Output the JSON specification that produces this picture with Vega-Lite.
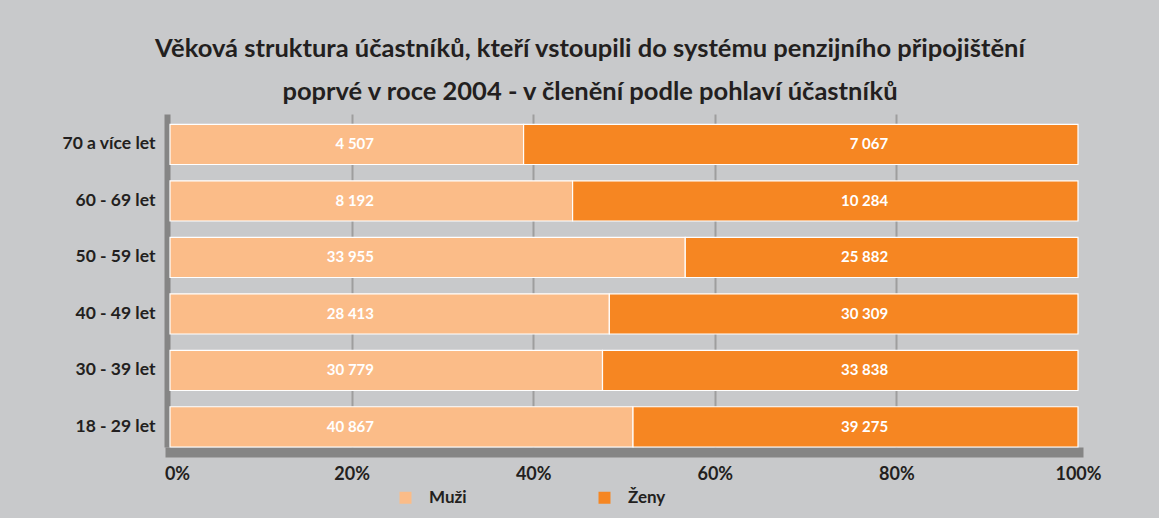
{
  "$schema": "https://vega.github.io/schema/vega-lite/v6.json",
  "width": 908,
  "height": 333,
  "autosize": {"type": "none"},
  "padding": {"left": 170, "top": 114, "right": 81, "bottom": 71},
  "background": "#c8c9cb",
  "title": {
    "text": ["Věková struktura účastníků, kteří vstoupili do systému penzijního připojištění", "poprvé v roce 2004 - v členění podle pohlaví účastníků"],
    "font": "Lato",
    "fontSize": 25.5,
    "fontWeight": "bold",
    "color": "#231f20",
    "anchor": "middle",
    "dx": -34,
    "lineHeight": 43,
    "offset": 9
  },
  "config": {
    "locale": {"number": {"decimal": ",", "thousands": " ", "grouping": [3], "currency": ["", " Kč"]}},
    "view": {"stroke": null},
    "font": "Lato"
  },
  "data": {
    "values": [
      {"age": "70 a více let", "sex": "Muži", "count": 4507},
      {"age": "70 a více let", "sex": "Ženy", "count": 7067},
      {"age": "60 - 69 let", "sex": "Muži", "count": 8192},
      {"age": "60 - 69 let", "sex": "Ženy", "count": 10284},
      {"age": "50 - 59 let", "sex": "Muži", "count": 33955},
      {"age": "50 - 59 let", "sex": "Ženy", "count": 25882},
      {"age": "40 - 49 let", "sex": "Muži", "count": 28413},
      {"age": "40 - 49 let", "sex": "Ženy", "count": 30309},
      {"age": "30 - 39 let", "sex": "Muži", "count": 30779},
      {"age": "30 - 39 let", "sex": "Ženy", "count": 33838},
      {"age": "18 - 29 let", "sex": "Muži", "count": 40867},
      {"age": "18 - 29 let", "sex": "Ženy", "count": 39275}
    ]
  },
  "encoding": {
    "y": {
      "field": "age",
      "type": "nominal",
      "sort": ["70 a více let", "60 - 69 let", "50 - 59 let", "40 - 49 let", "30 - 39 let", "18 - 29 let"],
      "scale": {"paddingInner": 0.288, "paddingOuter": 0.091, "align": 1},
      "axis": {
        "title": null,
        "domainColor": "#858585",
        "domainWidth": 6,
        "offset": 3,
        "ticks": false,
        "labelPadding": 12,
        "labelFont": "Lato",
        "labelFontWeight": "bold",
        "labelFontSize": 17.5,
        "labelColor": "#231f20"
      }
    }
  },
  "layer": [
    {
      "mark": {"type": "bar", "stroke": "#ffffff", "strokeWidth": 1.2},
      "encoding": {
        "x": {
          "field": "count",
          "type": "quantitative",
          "aggregate": "sum",
          "stack": "normalize",
          "scale": {"domain": [0, 1], "nice": false},
          "axis": {
            "title": null,
            "values": [0, 0.2, 0.4, 0.6, 0.8, 1],
            "format": ".0%",
            "domainColor": "#858585",
            "domainWidth": 10,
            "domainCap": "square",
            "offset": 5,
            "ticks": false,
            "labelFlush": false,
            "labelOffset": {"condition": {"test": "datum.value === 0", "value": 7}, "value": 0},
            "labelPadding": 13,
            "labelFont": "Lato",
            "labelFontWeight": "bold",
            "labelFontSize": 18,
            "labelColor": "#231f20",
            "labelBaseline": "top",
            "grid": true,
            "gridWidth": 2,
            "gridColor": {"condition": {"test": "datum.value === 0 || datum.value === 1", "value": "transparent"}, "value": "#9e9e9e"}
          }
        },
        "color": {
          "field": "sex",
          "type": "nominal",
          "scale": {"domain": ["Muži", "Ženy"], "range": ["#fbbc88", "#f68622"]},
          "legend": {
            "title": null,
            "orient": "none",
            "legendX": 227,
            "legendY": 375,
            "direction": "horizontal",
            "padding": 0,
            "symbolType": "square",
            "symbolSize": 144,
            "symbolStrokeWidth": 0,
            "labelOffset": 15,
            "columnPadding": 129,
            "labelFont": "Lato",
            "labelFontWeight": "bold",
            "labelFontSize": 17,
            "labelColor": "#231f20"
          }
        }
      }
    },
    {
      "transform": [{"filter": "datum.sex === 'Muži'"}],
      "mark": {"type": "text", "align": "right", "baseline": "middle", "color": "#ffffff", "font": "Lato", "fontWeight": "bold", "fontSize": 15},
      "encoding": {
        "x": {"datum": 0.2247, "type": "quantitative"},
        "text": {"field": "count", "type": "quantitative", "format": ",d"}
      }
    },
    {
      "transform": [{"filter": "datum.sex === 'Ženy'"}],
      "mark": {"type": "text", "align": "right", "baseline": "middle", "color": "#ffffff", "font": "Lato", "fontWeight": "bold", "fontSize": 15},
      "encoding": {
        "x": {"datum": 0.791, "type": "quantitative"},
        "text": {"field": "count", "type": "quantitative", "format": ",d"}
      }
    }
  ]
}
